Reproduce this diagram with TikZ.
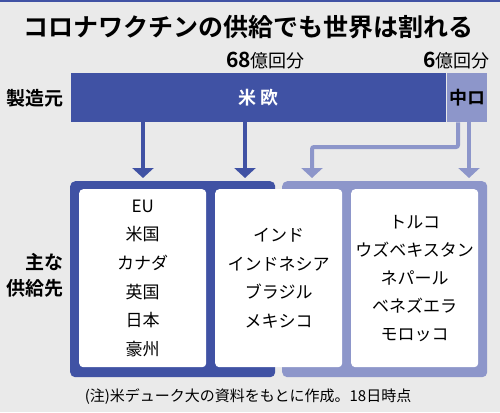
\documentclass[tikz,border=0pt]{standalone}
\usepackage{fontspec}
\setmainfont{Noto Sans CJK JP}[BoldFont={Noto Sans CJK JP Bold}]
\usepackage{tikz}
\usetikzlibrary{arrows.meta}
\usepackage{xcolor}
\definecolor{dblue}{HTML}{4052A4}
\definecolor{lblue}{HTML}{8D96CA}
\definecolor{bgray}{HTML}{EAEAEA}

\begin{document}
\begin{tikzpicture}[x=1pt,y=-1pt,line cap=butt,
  arr/.style={line width=4pt,-{Triangle[width=21pt,length=10pt]}},
  slab/.style={inner sep=0pt,minimum height=49pt,anchor=north west},
  frm/.style={rounded corners=5pt,inner sep=0pt,minimum width=205pt,minimum height=196pt,anchor=north west},
  card/.style={fill=white,rounded corners=4pt,inner sep=0pt,minimum width=127pt,minimum height=178pt,
    anchor=north west,align=center,font=\fontsize{17}{28.6}\selectfont}]
\fill[bgray] (0,0) rectangle (500,412);
\fill[dblue] (0,0) rectangle (500,2);
\useasboundingbox (0,0) rectangle (500,412);
% title
\node[font=\bfseries\fontsize{25}{25}\selectfont] (ttl) at (248,27) {コロナワクチンの供給でも世界は割れる};
\node[anchor=base east,inner sep=0pt] (q68) at (305,67) {{\bfseries\fontsize{21}{21}\selectfont 68}\fontsize{18}{18}\selectfont 億回分};
\node[anchor=base east,inner sep=0pt] (q6) at (490,67) {{\bfseries\fontsize{21}{21}\selectfont 6}\fontsize{18}{18}\selectfont 億回分};
% makers
\node[anchor=east,inner sep=0pt,font=\bfseries\fontsize{19}{19}\selectfont] (maker) at (64,98) {製造元};
\node[slab,fill=dblue,minimum width=375pt,text=white,font=\bfseries\fontsize{18}{18}\selectfont] (ob) at (71,73) {米 欧};
\node[slab,fill=lblue,minimum width=40pt,font=\bfseries\fontsize{18}{18}\selectfont] (cr) at (447,73) {中ロ};
% frames and cards
\node[frm,fill=dblue] (dfr) at (70,181) {};
\node[frm,fill=lblue] (lfr) at (282,181) {};
\node[card] (c1) at (79,189) {EU\\米国\\カナダ\\英国\\日本\\豪州};
\node[card] (c2) at (215,189) {インド\\インドネシア\\ブラジル\\メキシコ};
\node[card,font=\fontsize{17}{28}\selectfont] (c3) at (351,189) {トルコ\\ウズベキスタン\\ネパール\\ベネズエラ\\モロッコ};
\node[anchor=east,inner sep=0pt,align=right,font=\bfseries\fontsize{19}{26}\selectfont] (dest) at (64,275) {主な\\供給先};
% arrows
\draw[arr,dblue] (ob.south -| 143,0) -- (143,178);
\draw[arr,dblue] (ob.south -| 245,0) -- (245,178);
\draw[arr,lblue,rounded corners=2pt] (cr.south -| 458,0) |- (312,147) -- (312,178);
\draw[arr,lblue] (cr.south -| 469,0) -- (469,178);
% note
\node[font=\fontsize{15}{15}\selectfont] (note) at (248,397) {(注)米デューク大の資料をもとに作成。18日時点};
\end{tikzpicture}
\end{document}
